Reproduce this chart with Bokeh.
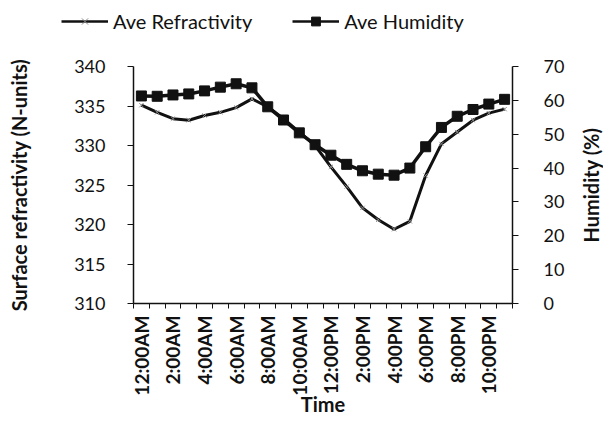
from bokeh.plotting import figure
from bokeh.layouts import column, row
from bokeh.models import Range1d, LinearAxis, FixedTicker, Legend, LegendItem
from bokeh.embed import file_html
from bokeh.resources import INLINE
import math

times = ["12:00AM", "1:00AM", "2:00AM", "3:00AM", "4:00AM", "5:00AM", "6:00AM", "7:00AM",
         "8:00AM", "9:00AM", "10:00AM", "11:00AM", "12:00PM", "1:00PM", "2:00PM", "3:00PM",
         "4:00PM", "5:00PM", "6:00PM", "7:00PM", "8:00PM", "9:00PM", "10:00PM", "11:00PM"]
refractivity = [335.1, 334.2, 333.4, 333.2, 333.8, 334.2, 334.8, 335.9, 334.9, 333.4, 331.7, 330.0,
                327.3, 324.8, 322.1, 320.6, 319.4, 320.4, 326.2, 330.2, 331.7, 333.2, 334.1, 334.6]
humidity = [61.3, 61.2, 61.6, 61.9, 62.8, 63.9, 64.9, 63.7, 58.1, 54.2, 50.4, 46.9,
            43.8, 41.1, 39.2, 38.2, 37.9, 40.0, 46.3, 52.0, 55.3, 57.3, 58.9, 60.3]
left_ticks = [310, 315, 320, 325, 330, 335, 340]
right_ticks = [0, 10, 20, 30, 40, 50, 60, 70]

FONT = "Lato"
INK = "#111111"
idx = list(range(len(times)))

# ---- legend strip on top (series lie outside its view; only the legend shows) ----
lg = figure(width=603, height=54, output_backend="svg", toolbar_location=None,
            x_axis_location=None, y_axis_location=None,
            x_range=Range1d(0, 1), y_range=Range1d(0, 1),
            min_border_left=0, min_border_right=0, min_border_top=0, min_border_bottom=0)
lg.frame_align = False
lg.outline_line_color = None
lg.xgrid.visible = False
lg.ygrid.visible = False
lr_line = lg.line(idx, refractivity, line_color=INK, line_width=2.5)
lr_mark = lg.scatter(idx, refractivity, marker="x", size=6, line_color="#8a8a8a", line_width=1)
lh_line = lg.line(idx, humidity, line_color=INK, line_width=2.5)
lh_mark = lg.scatter(idx, humidity, marker="square", size=7, fill_color=INK, line_color=INK)
legend = Legend(items=[LegendItem(label="Ave Refractivity", renderers=[lr_line, lr_mark]),
                       LegendItem(label="Ave Humidity", renderers=[lh_line, lh_mark])],
                orientation="horizontal", location=(61, 21))
legend.label_text_font = FONT
legend.label_text_font_size = "20px"
legend.label_text_color = INK
legend.glyph_width = 47
legend.glyph_height = 22
legend.label_standoff = 5
legend.spacing = 40
legend.padding = 2
legend.margin = 0
legend.border_line_color = None
legend.background_fill_alpha = 0
lg.add_layout(legend, "center")

# ---- main chart ----
p = figure(width=575, height=378, output_backend="svg", toolbar_location=None,
           x_range=Range1d(-0.5, len(times) - 0.5), y_range=Range1d(310, 340),
           min_border_left=133, min_border_right=63, min_border_top=12, min_border_bottom=129)
p.frame_align = False
p.background_fill_color = "white"
p.border_fill_color = "white"
p.outline_line_color = None
p.xgrid.visible = False
p.ygrid.visible = False
p.extra_y_ranges = {"hum": Range1d(0, 70)}

p.line(idx, refractivity, line_color=INK, line_width=3)
p.scatter(idx, refractivity, marker="x", size=6, line_color="#8a8a8a", line_width=1)
p.line(idx, humidity, line_color=INK, line_width=3.5, y_range_name="hum")
p.scatter(idx, humidity, marker="square", size=10, fill_color=INK, line_color=INK,
          y_range_name="hum")

# x axis
xa = p.xaxis[0]
xa.ticker = FixedTicker(ticks=idx[::2], minor_ticks=[i - 0.5 for i in range(len(times) + 1)])
xa.major_label_overrides = {i: times[i] for i in idx[::2]}
xa.major_label_orientation = math.pi / 2
xa.major_tick_out = 0
xa.major_tick_in = 0
xa.minor_tick_out = 5
xa.minor_tick_in = 0
xa.minor_tick_line_color = INK
xa.major_label_standoff = 7
xa.major_label_text_font = FONT
xa.major_label_text_font_size = "19px"
xa.major_label_text_font_style = "bold"
xa.major_label_text_color = INK
xa.axis_label = "Time"
xa.axis_label_text_font = FONT
xa.axis_label_text_font_size = "20px"
xa.axis_label_text_font_style = "bold"
xa.axis_label_text_color = INK
xa.axis_label_standoff = -7
xa.axis_line_color = INK
xa.axis_line_width = 1.5

# left axis
ya = p.yaxis[0]
ya.ticker = FixedTicker(ticks=left_ticks)
ya.minor_tick_line_color = None
ya.major_tick_out = 6
ya.major_tick_in = 0
ya.major_tick_line_color = INK
ya.major_label_standoff = 22
ya.major_label_text_font = FONT
ya.major_label_text_font_size = "18px"
ya.major_label_text_color = INK
ya.axis_label = "Surface refractivity (N-units)"
ya.axis_label_text_font = FONT
ya.axis_label_text_font_size = "20px"
ya.axis_label_text_font_style = "bold"
ya.axis_label_text_color = INK
ya.axis_label_standoff = 40
ya.axis_line_color = INK
ya.axis_line_width = 1.5

# right axis (ticks and numbers)
ra = LinearAxis(y_range_name="hum", ticker=FixedTicker(ticks=right_ticks))
ra.minor_tick_line_color = None
ra.major_tick_out = 6
ra.major_tick_in = 0
ra.major_tick_line_color = INK
ra.major_label_standoff = 25
ra.major_label_text_font = FONT
ra.major_label_text_font_size = "18px"
ra.major_label_text_color = INK
ra.axis_line_color = INK
ra.axis_line_width = 1.5
p.add_layout(ra, "right")

# ---- right title strip: a left-side axis label reads bottom-to-top ----
rf = figure(width=28, height=378, output_backend="svg", toolbar_location=None,
            x_axis_location=None, y_range=Range1d(0, 70), x_range=Range1d(0, 1),
            min_border_left=27, min_border_right=0, min_border_top=12, min_border_bottom=129)
rf.frame_align = False
rf.outline_line_color = None
rf.xgrid.visible = False
rf.ygrid.visible = False
rt = rf.yaxis[0]
rt.ticker = FixedTicker(ticks=[])
rt.axis_line_color = None
rt.major_tick_line_color = None
rt.minor_tick_line_color = None
rt.major_label_text_font_size = "0px"
rt.major_label_standoff = 0
rt.axis_label = "Humidity (%)"
rt.axis_label_text_font = FONT
rt.axis_label_text_font_size = "20px"
rt.axis_label_text_font_style = "bold"
rt.axis_label_text_color = INK
rt.axis_label_standoff = 0

page = column(lg, row(p, rf, spacing=0), spacing=0)
open("out.html", "w").write(file_html(page, INLINE))
